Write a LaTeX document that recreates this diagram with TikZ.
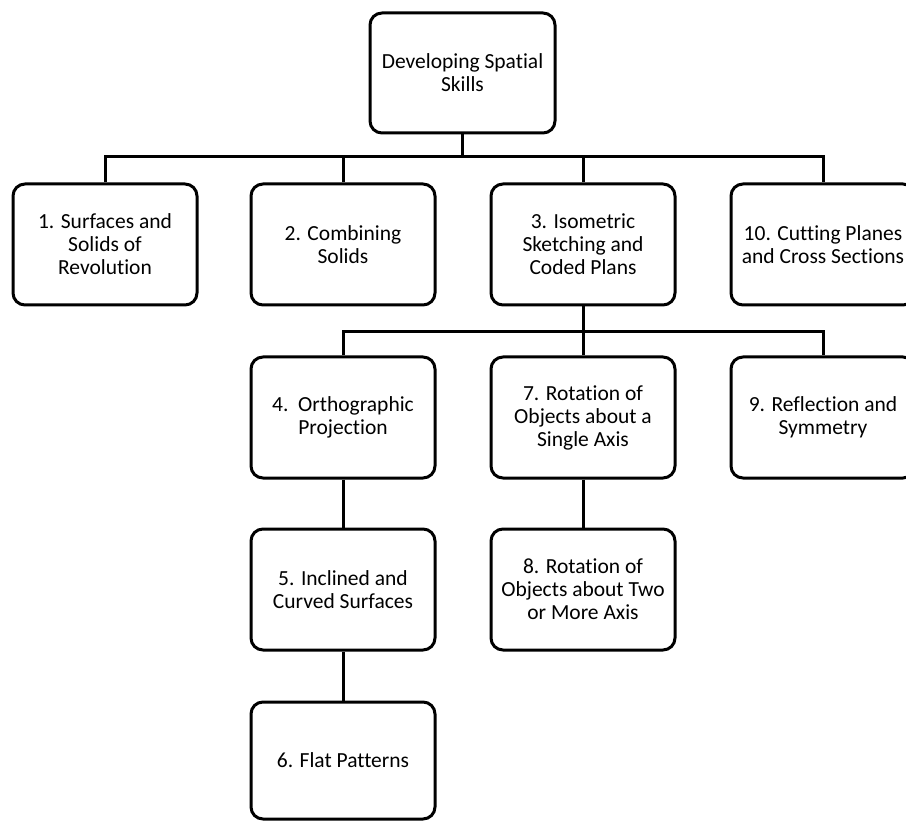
\documentclass[tikz,border=0pt]{standalone}
\usepackage{fontspec}
\setmainfont{Carlito}[Ligatures=NoCommon]
\begin{document}
\begin{tikzpicture}[x=1pt,y=-1pt,
  box/.style={draw, line width=3pt, rounded corners=12pt, minimum width=184pt,
    minimum height=121pt, align=center, inner sep=0pt,
    font=\fontsize{21.5}{23}\selectfont},
  link/.style={line width=3pt}]
\useasboundingbox (0,0) rectangle (906,821);
\node[box, minimum width=185pt, minimum height=120pt] (root) at (462.5,73) {Developing Spatial\\Skills};
\node[box] (b1) at (105,244.5) {1. Surfaces and\\Solids of\\Revolution};
\node[box] (b2) at (343,244.5) {2. Combining\\Solids};
\node[box] (b3) at (583,244.5) {3. Isometric\\Sketching and\\Coded Plans};
\node[box] (b10) at (823,244.5) {10. Cutting Planes\\and Cross Sections};
\node[box] (b4) at (343,417.5) {4.\ \ Orthographic\\Projection};
\node[box] (b7) at (583,417.5) {7. Rotation of\\Objects about a\\Single Axis};
\node[box] (b9) at (823,417.5) {9. Reflection and\\Symmetry};
\node[box] (b5) at (343,589.5) {5. Inclined and\\Curved Surfaces};
\node[box] (b8) at (583,589.5) {8. Rotation of\\Objects about Two\\or More Axis};
\node[box, minimum height=117pt] (b6) at (343,760.5) {6. Flat Patterns};
\coordinate (bus1) at (462.5,157);
\coordinate (bus2) at (583,332);
\draw[link] (root.south) -- (bus1);
\draw[link] (b1.north) |- (bus1) -| (b10.north);
\draw[link] (b2.north) -- (b2.north |- bus1);
\draw[link] (b3.north) -- (b3.north |- bus1);
\draw[link] (b3.south) -- (bus2);
\draw[link] (b4.north) |- (bus2) -| (b9.north);
\draw[link] (b7.north) -- (bus2);
\draw[link] (b4.south) -- (b5.north);
\draw[link] (b5.south) -- (b6.north);
\draw[link] (b7.south) -- (b8.north);
\end{tikzpicture}
\end{document}
